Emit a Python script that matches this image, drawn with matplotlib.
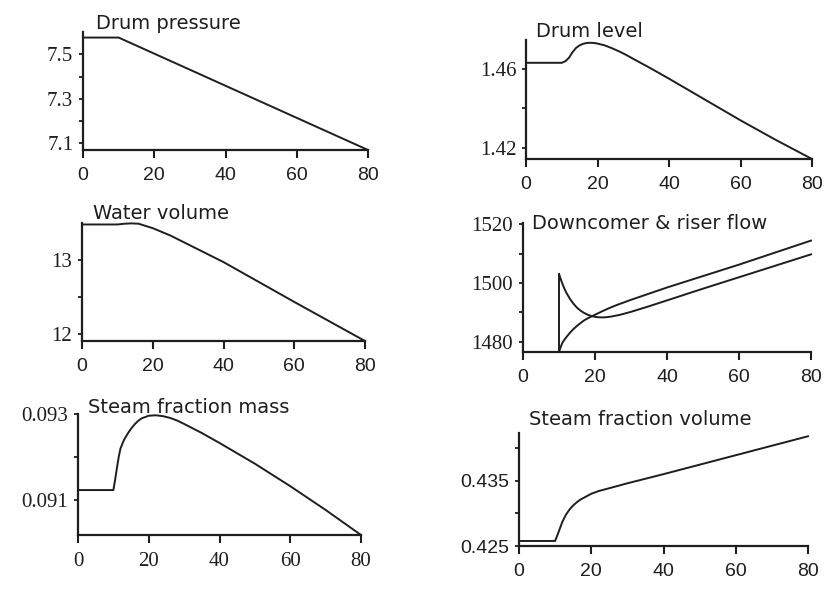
import numpy as np
import matplotlib
matplotlib.use('Agg')
import matplotlib.pyplot as plt

# time axis (s) and traces
t_p = [0, 10, 80]
drum_pressure = [7.575, 7.575, 7.07]

t_l = [0, 10, 11, 12, 13, 14, 15, 16, 17, 18, 19, 20, 22, 24, 26, 28, 30,
       35, 40, 50, 60, 70, 80]
drum_level = [1.463, 1.463, 1.4638, 1.4655, 1.4683, 1.4705, 1.4718, 1.4726, 1.473,
              1.4731, 1.473, 1.4727, 1.4718, 1.4704, 1.4688, 1.467, 1.465,
              1.4601, 1.455, 1.4445, 1.434, 1.424, 1.4145]

t_w = [0, 10, 12, 14, 16, 18, 20, 25, 30, 40, 50, 60, 70, 80]
water_volume = [13.48, 13.48, 13.49, 13.495, 13.49, 13.46, 13.43, 13.33,
                13.21, 12.97, 12.70, 12.43, 12.165, 11.9]

t_dc = [0, 10, 10, 10.5, 11, 11.5, 12, 13, 14, 15, 16, 17, 18, 19, 20, 21, 22,
        23, 24, 25, 27, 30, 35, 40, 50, 60, 70, 80]
downcomer = [1476.5, 1476.5, 1503.2, 1501.3, 1499.6, 1498.1, 1496.8, 1494.7, 1493.0,
             1491.6, 1490.6, 1489.8, 1489.2, 1488.8, 1488.5, 1488.35, 1488.3,
             1488.35, 1488.5, 1488.7, 1489.2, 1490.2, 1492.1, 1494.1, 1498.1,
             1502.0, 1505.9, 1509.8]
t_r = [0, 10, 10.5, 11, 12, 13, 14, 15, 16, 17, 18, 19, 20, 22, 24, 26, 28, 30,
       35, 40, 50, 60, 70, 80]
riser = [1476.5, 1476.5, 1478.3, 1479.8, 1481.5, 1483.0, 1484.3, 1485.4, 1486.4,
         1487.3, 1488.0, 1488.6, 1489.2, 1490.4, 1491.5, 1492.5, 1493.4, 1494.3,
         1496.4, 1498.5, 1502.4, 1506.3, 1510.4, 1514.5]

t_m = [0, 10, 10.5, 11, 11.5, 12, 13, 14, 15, 16, 17, 18, 19, 20, 22, 24, 26,
       28, 30, 35, 40, 50, 60, 70, 80]
steam_mass = [0.09124, 0.09124, 0.09148, 0.09175, 0.092, 0.0922, 0.0924, 0.09254,
              0.09266, 0.09276, 0.09284, 0.0929, 0.09293, 0.09296, 0.09297,
              0.09295, 0.09291, 0.09285, 0.09277, 0.09256, 0.09233, 0.09185,
              0.09133, 0.09078, 0.0902]

t_v = [0, 10, 11, 12, 13, 14, 15, 16, 17, 18, 20, 22, 24, 26, 28, 30, 35, 40,
       50, 60, 70, 80]
steam_vol = [0.42577, 0.42577, 0.4272, 0.4287, 0.4298, 0.4306, 0.4312, 0.4317,
             0.4321, 0.4324, 0.433, 0.4334, 0.4337, 0.434, 0.4343, 0.4346,
             0.4353, 0.436, 0.43745, 0.4389, 0.44035, 0.4418]

xticks = [0, 20, 40, 60, 80]

fig = plt.figure(figsize=(8.24, 5.89), dpi=100)
W, H = 824., 589.

def make_ax(l, r, top, bot):
    return fig.add_axes([l / W, 1 - bot / H, (r - l) / W, (bot - top) / H])

ink = '#1e1e1e'

def style(ax, ylim, major, minor, ylabfont, xlabfont, title, toff):
    ax.set_xlim(0, 80)
    ax.set_ylim(*ylim)
    for s in ['top', 'right']:
        ax.spines[s].set_visible(False)
    for s in ['left', 'bottom']:
        ax.spines[s].set_linewidth(1.6)
        ax.spines[s].set_color(ink)
    ax.set_xticks(xticks)
    ax.set_yticks(major)
    ax.set_yticks(minor, minor=True)
    ax.set_yticklabels([('%g' % v) for v in major], family=ylabfont,
                       fontsize=15 if ylabfont == 'Liberation Serif' else 14)
    ax.set_xticklabels([str(v) for v in xticks], family=xlabfont,
                       fontsize=15 if xlabfont == 'Liberation Serif' else 14)
    ax.tick_params(axis='y', which='major', direction='out', length=3, width=1.3, pad=4, colors=ink)
    ax.tick_params(axis='y', which='minor', direction='out', length=3, width=1.3, colors=ink)
    ax.tick_params(axis='x', direction='out', length=6, width=1.5, pad=6, colors=ink)
    ax.patch.set_alpha(0)
    ax.annotate(title, xy=(0, 1), xycoords='axes fraction', xytext=toff,
                textcoords='offset pixels', ha='left', va='baseline',
                fontsize=14, family='DejaVu Sans', color=ink, annotation_clip=False)

lw = 1.4

ax1 = make_ax(83, 368, 32, 150)
ax1.plot(t_p, drum_pressure, color=ink, lw=lw, clip_on=False)
style(ax1, (7.07, 7.6), [7.1, 7.3, 7.5], [7.2, 7.4], 'Liberation Serif', 'Liberation Sans', 'Drum pressure', (13, 3))

ax2 = make_ax(526, 812, 40, 159)
ax2.plot(t_l, drum_level, color=ink, lw=lw, clip_on=False)
style(ax2, (1.4145, 1.4745), [1.42, 1.46], [1.44], 'Liberation Serif', 'Liberation Sans', 'Drum level', (10, 3))

ax3 = make_ax(82, 365, 223, 341)
ax3.plot(t_w, water_volume, color=ink, lw=lw, clip_on=False)
style(ax3, (11.9, 13.5), [12, 13], [12.5], 'Liberation Serif', 'Liberation Sans', 'Water volume', (11, 4))

ax4 = make_ax(523, 811, 223, 352)
ax4.plot(t_dc, downcomer, color=ink, lw=lw, clip_on=False)
ax4.plot(t_r, riser, color=ink, lw=lw, clip_on=False)
style(ax4, (1476.5, 1520.5), [1480, 1500, 1520], [1490, 1510], 'Liberation Serif', 'Liberation Sans', 'Downcomer & riser flow', (9, -6))

ax5 = make_ax(78, 361, 414, 535)
ax5.plot(t_m, steam_mass, color=ink, lw=lw, clip_on=False)
style(ax5, (0.0902, 0.093), [0.091, 0.093], [0.092], 'Liberation Serif', 'Liberation Serif', 'Steam fraction mass', (10, 1))

ax6 = make_ax(519, 808, 433, 546)
ax6.plot(t_v, steam_vol, color=ink, lw=lw, clip_on=False)
style(ax6, (0.425, 0.4423), [0.425, 0.435], [0.430, 0.440], 'Liberation Sans', 'Liberation Sans', 'Steam fraction volume', (10, 8))

fig.savefig('out.png', dpi=100)
